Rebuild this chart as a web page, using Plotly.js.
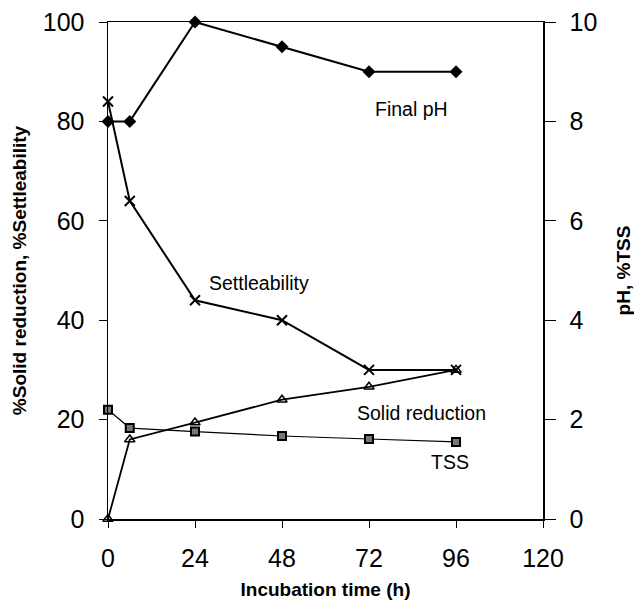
<!DOCTYPE html>
<html>
<head>
<meta charset="utf-8">
<script src="https://cdn.plot.ly/plotly-3.0.1.min.js"></script>
<style>html,body{margin:0;padding:0;background:#fff;}#chart{width:634px;height:600px;}</style>
</head>
<body>
<div id="chart"></div>
<script>
const time = [0, 6, 24, 48, 72, 96];
const finalPH = [8.0, 8.0, 10.0, 9.5, 9.0, 9.0];
const settleability = [84, 64, 44, 40, 30, 30];
const solidReduction = [0, 16, 19.4, 24, 26.6, 30];
const tss = [2.2, 1.83, 1.76, 1.67, 1.61, 1.55];
const xTicks = [0, 24, 48, 72, 96, 120];
const yTicks = [0, 20, 40, 60, 80, 100];
const y2Ticks = [0, 2, 4, 6, 8, 10];

const font = 'Liberation Sans, Arial, sans-serif';
const traces = [
  {x: time, y: finalPH, yaxis: 'y2', mode: 'lines+markers', cliponaxis: false,
   line: {color: '#000', width: 2}, marker: {symbol: 'diamond', size: 10, color: '#000'}},
  {x: time, y: settleability, mode: 'lines+markers', cliponaxis: false,
   line: {color: '#000', width: 2}, marker: {symbol: 'x-thin-open', size: 10, color: '#000', line: {width: 2, color: '#000'}}},
  {x: time, y: solidReduction, mode: 'lines+markers', cliponaxis: false,
   line: {color: '#000', width: 1.8}, marker: {symbol: 'triangle-up-open', size: 9, color: '#000', line: {width: 1.5, color: '#000'}}},
  {x: time, y: tss, yaxis: 'y2', mode: 'lines+markers', cliponaxis: false,
   line: {color: '#000', width: 1.2}, marker: {symbol: 'square', size: 8, color: '#777', line: {width: 2, color: '#000'}}}
];

const tickFont = {size: 25, family: font, color: '#000'};
const titleFont = {size: 19, family: font, color: '#000'};
const annFont = {size: 19.5, family: font, color: '#000'};

const layout = {
  width: 634, height: 600,
  margin: {l: 108, r: 91, t: 22, b: 81},
  paper_bgcolor: '#fff', plot_bgcolor: '#fff',
  showlegend: false,
  font: {family: font, color: '#000'},
  xaxis: {range: [0, 120], tickvals: xTicks, ticktext: xTicks.map(String),
    showgrid: false, zeroline: false, showline: true, linecolor: '#000', linewidth: 1.5, mirror: true,
    ticks: 'outside', ticklen: 7, tickcolor: '#000', tickfont: tickFont, ticklabelstandoff: 9,
    title: {text: '<b>Incubation time (h)</b>', font: titleFont, standoff: 15}},
  yaxis: {range: [0, 100], tickvals: yTicks, ticktext: yTicks.map(String),
    showgrid: false, zeroline: false, showline: true, linecolor: '#000', linewidth: 1.5,
    ticks: 'outside', ticklen: 8, tickcolor: '#000', tickfont: tickFont, ticklabelstandoff: 9,
    title: {text: '<b>%Solid reduction, %Settleability</b>', font: titleFont, standoff: 11}},
  yaxis2: {range: [0, 10], tickvals: y2Ticks, ticktext: y2Ticks.map(String), overlaying: 'y', side: 'right',
    showgrid: false, zeroline: false, showline: true, linecolor: '#000', linewidth: 1.5,
    ticks: 'outside', ticklen: 11, tickcolor: '#000', tickfont: tickFont, ticklabelstandoff: 9,
    title: {text: '<b>pH, %TSS</b>', font: titleFont, standoff: 22}},
  annotations: [
    {x: 83.6, y: 82.5, xref: 'x', yref: 'y', text: 'Final pH', showarrow: false, font: annFont},
    {x: 41.7, y: 47.5, xref: 'x', yref: 'y', text: 'Settleability', showarrow: false, font: annFont},
    {x: 86.6, y: 21.3, xref: 'x', yref: 'y', text: 'Solid reduction', showarrow: false, font: annFont},
    {x: 94.3, y: 11.5, xref: 'x', yref: 'y', text: 'TSS', showarrow: false, font: annFont}
  ]
};
Plotly.newPlot('chart', traces, layout, {displayModeBar: false, staticPlot: true});
</script>
</body>
</html>
